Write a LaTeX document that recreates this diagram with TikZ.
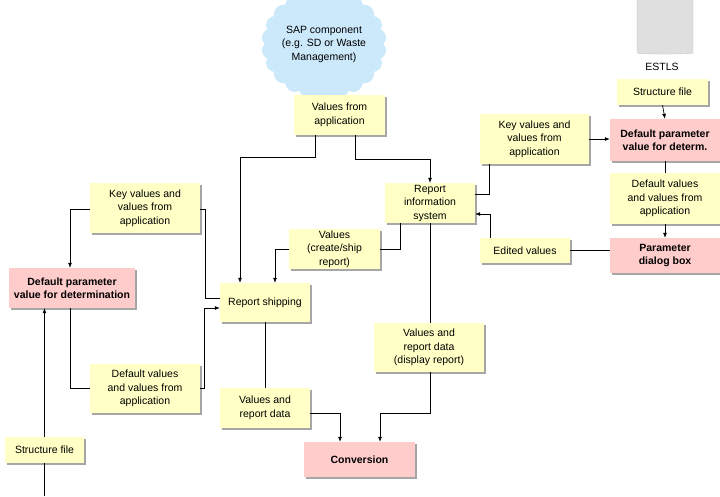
\documentclass[tikz,border=0pt]{standalone}
\usepackage{fontspec}
\setmainfont{Liberation Sans}
\usetikzlibrary{shapes.geometric,shapes.symbols,shadows,arrows.meta,backgrounds}
\definecolor{boxy}{HTML}{FFFFC6}
\definecolor{boxp}{HTML}{FFCCCC}
\definecolor{cloudb}{HTML}{CCE9FB}
\begin{document}
\begin{tikzpicture}[x=1pt,y=-1pt,
  base/.style={rectangle,inner sep=1pt,align=center,font=\fontsize{10.5}{13.5}\selectfont,
     drop shadow={shadow xshift=1.5pt,shadow yshift=-1.5pt,fill=gray!70,opacity=1}},
  yb/.style={base,fill=boxy},
  pb/.style={base,fill=boxp,font=\fontsize{10.5}{13.5}\selectfont\bfseries},
  arr/.style={-{Latex[length=5pt,width=4pt]}},
  ln/.style={draw=black,line width=0.7pt}]
\useasboundingbox[fill=white] (0,0) rectangle (720,496);
\node[cylinder,shape border rotate=90,aspect=0.35,fill=gray!25,draw=gray!45,minimum width=56,minimum height=66] (cyl) at (665,22) {};
\node[fill=white,inner sep=1pt,font=\fontsize{10.5}{12}\selectfont] (es) at (662,67) {ESTLS};
\node[cloud,cloud puffs=22,cloud puff arc=110,aspect=1.15,fill=cloudb,minimum width=96,minimum height=84,inner sep=0pt,align=center,font=\fontsize{10.5}{13.5}\selectfont] (c) at (324,44) {SAP component\\(e.g. SD or Waste\\Management)};
\node[yb,minimum width=91,minimum height=40] (vfa) at (339.5,115) {Values from\\application};
\node[yb,minimum width=90,minimum height=40] (ri) at (430,203) {Report\\information\\system};
\node[yb,minimum width=109,minimum height=50] (kvr) at (534.5,139) {Key values and\\values from\\application};
\node[yb,minimum width=91,minimum height=26] (sfr) at (662.5,92) {Structure file};
\node[pb,minimum width=110,minimum height=42] (dpr) at (665,140) {Default parameter\\value for determ.};
\node[yb,minimum width=110,minimum height=51] (dvr) at (665,198.5) {Default values\\and values from\\application};
\node[pb,minimum width=110,minimum height=35] (pdb) at (665,255.5) {Parameter\\dialog box};
\node[yb,minimum width=90,minimum height=25] (ev) at (525,250.5) {Edited values};
\node[yb,minimum width=91,minimum height=40] (vcs) at (334.5,249) {Values\\(create/ship\\report)};
\node[yb,minimum width=90,minimum height=39] (rs) at (265,302.5) {Report shipping};
\node[yb,minimum width=110,minimum height=50] (kvl) at (145,208) {Key values and\\values from\\application};
\node[pb,minimum width=126,minimum height=40] (dpl) at (72,288) {Default parameter\\value for determination};
\node[yb,minimum width=110,minimum height=49] (dvl) at (145,388.5) {Default values\\and values from\\application};
\node[yb,minimum width=79,minimum height=26] (sfl) at (44.5,450) {Structure file};
\node[yb,minimum width=90,minimum height=40] (vrd) at (265,408) {Values and\\report data};
\node[pb,minimum width=111,minimum height=35] (conv) at (359.5,459.5) {Conversion};
\node[yb,minimum width=110,minimum height=49] (vrdd) at (429,347.5) {Values and\\report data\\(display report)};
\begin{scope}[on background layer]
\draw[ln] (cyl.bottom) -- (sfr.north);
\draw[ln] (vfa.north -| 315,0) -- (315,75);
\draw[ln] (vfa.north -| 355,0) -- (355,75);
\end{scope}
\draw[ln,arr] (vfa.south -| 315,0) |- (240,157) -- (rs.north -| 240,0);
\draw[ln,arr] (vfa.south -| 355,0) |- (430,159) -- (ri.north);
\draw[ln,arr] (kvr.east) -- (dpr.west |- kvr.east);
\draw[ln] (kvr.south -| 489,0) |- (ri.east |- 0,194);
\draw[ln,arr] (sfr.south) -- (dpr.north);
\draw[ln] (dpr.south) -- (dvr.north);
\draw[ln,arr] (dvr.south) -- (pdb.north);
\draw[ln] (pdb.west |- ev.east) -- (ev.east);
\draw[ln,arr] (ev.north -| 490,0) |- (ri.east |- 0,214);
\draw[ln] (ri.south -| 400,0) |- (vcs.east);
\draw[ln,arr] (vcs.west) -| (rs.north -| 275,0);
\draw[ln,arr] (kvl.west |- 0,209) -| (dpl.north -| 70,0);
\draw[ln] (kvl.east |- 0,209) -| (205,298) -- (rs.west |- 0,298);
\draw[ln,arr] (dvl.east) -| (204,308) -- (rs.west |- 0,308);
\draw[ln] (dpl.south -| 70,0) |- (dvl.west);
\draw[ln,arr] (sfl.north) -- (dpl.south -| sfl.north);
\draw[ln] (sfl.south) -- (44.5,496);
\draw[ln] (rs.south) -- (vrd.north);
\draw[ln,arr] (vrd.east |- 0,413) -| (conv.north -| 340,0);
\draw[ln] (ri.south) -- (vrdd.north -| ri.south);
\draw[ln,arr] (vrdd.south -| 430,0) |- (380,413) -- (conv.north -| 380,0);
\end{tikzpicture}
\end{document}
